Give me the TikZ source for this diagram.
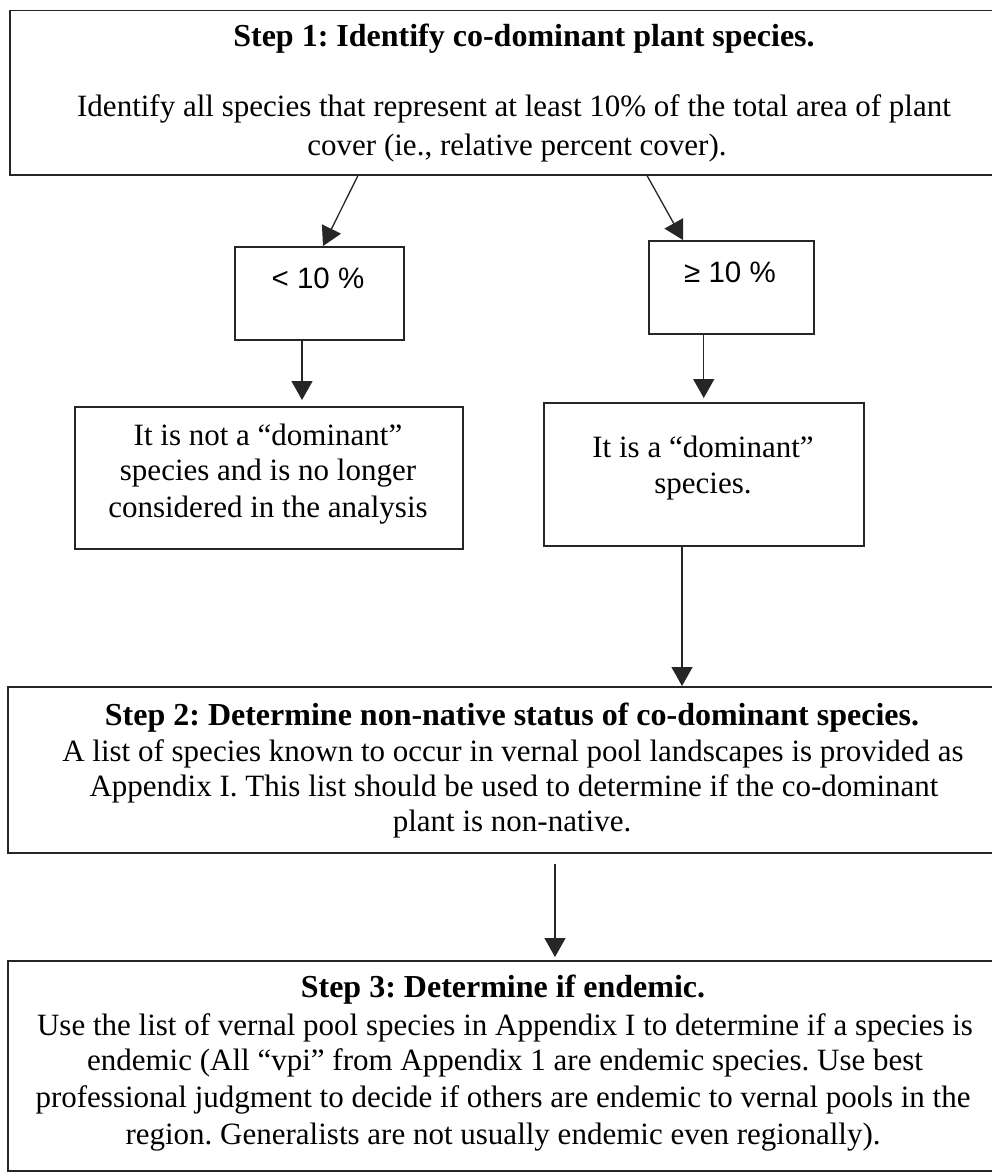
\documentclass[tikz,border=0pt]{standalone}
\usepackage{fontspec}
\setmainfont{Liberation Serif}
\newfontfamily\sansf{Liberation Sans}
\usetikzlibrary{arrows.meta}
\frenchspacing
\begin{document}
\begin{tikzpicture}[x=1pt,y=-1pt,
  box/.style={draw=black!85, line width=1.5pt, inner sep=0pt, anchor=north west},
  txt/.style={anchor=base, inner sep=0pt, font=\fontsize{31}{35}\selectfont\frenchspacing},
  ttl/.style={anchor=base, inner sep=0pt, font=\fontsize{32}{36}\selectfont\bfseries\frenchspacing},
  pct/.style={anchor=base, inner sep=0pt, font=\sansf\fontsize{29.5}{34}\selectfont},
  arr/.style={draw=black!85, line width=1.3pt, -{Triangle[width=21pt,length=19pt]}}]
\useasboundingbox (0,0) rectangle (992,1172);
\fill[white] (0,0) rectangle (992,1172);

% boxes
\node[box, minimum width=1010pt, minimum height=164pt] (s1) at (9,10) {};
\node[box, minimum width=169pt, minimum height=93pt] (lt) at (234,246) {};
\node[box, minimum width=165pt, minimum height=93pt] (ge) at (648,240) {};
\node[box, minimum width=388pt, minimum height=142pt] (nd) at (74,406) {};
\node[box, minimum width=320pt, minimum height=143pt] (dom) at (543,402) {};
\node[box, minimum width=1010pt, minimum height=166pt] (s2) at (7,686) {};
\node[box, minimum width=1010pt, minimum height=210pt] (s3) at (7,960) {};

% texts step 1
\node[ttl] (s1t) at (524,47) {Step 1: Identify co-dominant plant species.};
\node[txt] (s1a) at (514,116) {Identify all species that represent at least 10\% of the total area of plant};
\node[txt] (s1b) at (517,155) {cover (ie., relative percent cover).};

% percent boxes
\node[pct] (ltt) at (318,288) {< 10 \%};
\node[pct] (get) at (730,282) {≥ 10 \%};

% result boxes
\node[txt] (nd1) at (268,445) {It is not a “dominant”};
\node[txt] (nd2) at (268,480) {species and is no longer};
\node[txt] (nd3) at (268,517) {considered in the analysis};
\node[txt] (dm1) at (703,457) {It is a “dominant”};
\node[txt] (dm2) at (703,493) {species.};

% step 2
\node[ttl] (s2t) at (512,725) {Step 2: Determine non-native status of co-dominant species.};
\node[txt] (s2a) at (513,761) {A list of species known to occur in vernal pool landscapes is provided as};
\node[txt] (s2b) at (514,796) {Appendix I. This list should be used to determine if the co-dominant};
\node[txt] (s2c) at (512,831) {plant is non-native.};

% step 3
\node[ttl] (s3t) at (503,997) {Step 3: Determine if endemic.};
\node[txt] (s3a) at (505,1035) {Use the list of vernal pool species in Appendix I to determine if a species is};
\node[txt] (s3b) at (505,1070) {endemic (All “vpi” from Appendix 1 are endemic species. Use best};
\node[txt] (s3c) at (503,1107) {professional judgment to decide if others are endemic to vernal pools in the};
\node[txt] (s3d) at (503,1144) {region. Generalists are not usually endemic even regionally).};

% connector x positions
\coordinate (c1) at (358,0);
\coordinate (c1e) at (323,0);
\coordinate (c2) at (647,0);
\coordinate (c2e) at (683,0);
\coordinate (c3) at (302,0);
\coordinate (c5) at (682,0);
\coordinate (c6) at (555,0);

\draw[arr] (s1.south -| c1) -- (lt.north -| c1e);
\draw[arr] (s1.south -| c2) -- (ge.north -| c2e);
\draw[arr, shorten >=6pt] (lt.south -| c3) -- (nd.north -| c3);
\draw[arr, shorten >=4pt] (ge.south -| dom.north) -- (dom.north);
\draw[arr] (dom.south -| c5) -- (s2.north -| c5);
\draw[arr, shorten <=10pt, shorten >=3pt] (s2.south -| c6) -- (s3.north -| c6);
\end{tikzpicture}
\end{document}
